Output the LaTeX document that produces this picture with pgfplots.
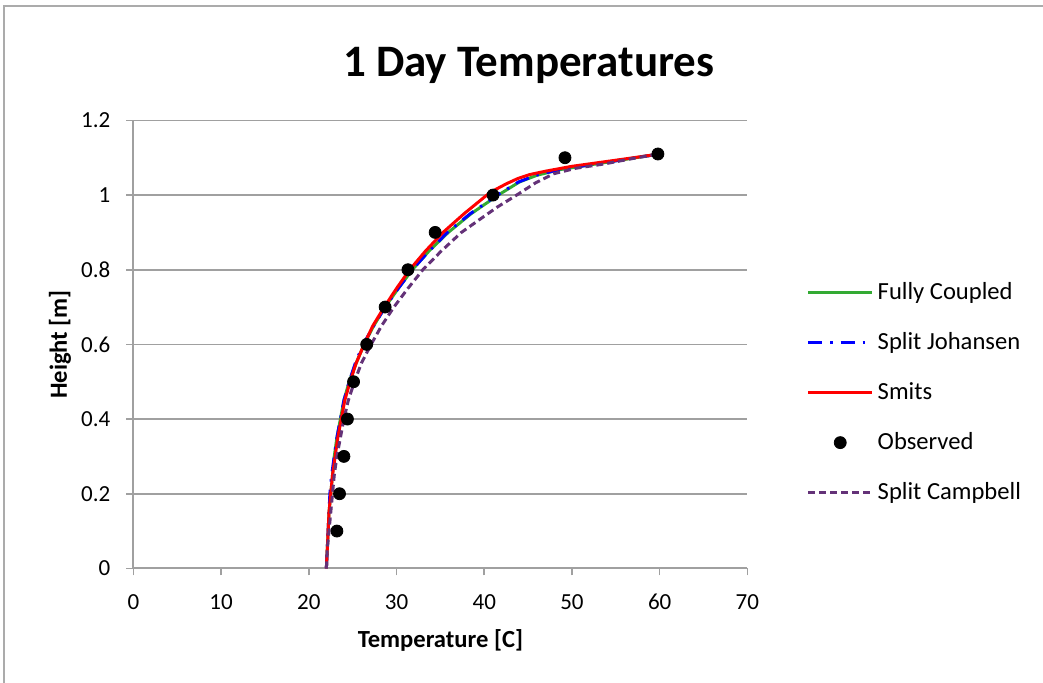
\documentclass[border=0pt]{standalone}
\usepackage{fontspec}
\setmainfont{Carlito}
\usepackage{pgfplots}
\pgfplotsset{compat=1.18}

\definecolor{cgreen}{RGB}{51,170,51}
\definecolor{cblue}{RGB}{0,0,255}
\definecolor{cred}{RGB}{255,0,0}
\definecolor{cpurple}{RGB}{100,50,120}
\definecolor{cgrid}{RGB}{160,160,160}

\pgfplotsset{
  linelegend/.style={legend image code/.code={\draw[##1] (0pt,0pt) -- (32pt,0pt);}},
  dotlegend/.style={legend image code/.code={\draw[##1] plot coordinates {(16pt,0pt)};}},
}

\begin{document}
\begin{tikzpicture}
\useasboundingbox (-66.7pt,-57.3pt) rectangle (454.8pt,284.2pt);
\draw[color=black!33, line width=1pt] (-64.7pt,-57.3pt) -- (-64.7pt,281.2pt) -- (454.8pt,281.2pt);
\begin{axis}[
    at={(0,0)}, anchor=south west,
    width=307pt, height=224pt, scale only axis,
    xmin=0, xmax=70, ymin=0, ymax=1.2,
    xtick={0,10,...,70},
    ytick={0,0.2,...,1.2},
    axis lines*=left,
    axis line style={cgrid, line width=0.9pt},
    ymajorgrids,
    grid style={cgrid, line width=0.8pt},
    tick align=outside,
    major tick length=3.5pt,
    tick style={cgrid, line width=0.8pt},
    xtick pos=bottom, ytick pos=left,
    ticklabel style={font=\fontsize{11.5}{13}\selectfont},
    xticklabel style={yshift=-6pt},
    yticklabel style={xshift=-4.5pt},
    /pgf/number format/assume math mode=true,
    xlabel={Temperature [C]},
    ylabel={Height [m]},
    label style={font=\fontsize{12.3}{14}\selectfont\bfseries},
    xlabel style={at={(axis description cs:0.5,-0.16)}, anchor=center},
    ylabel style={at={(axis description cs:-0.1195,0.5)}, anchor=center},
    title={1 Day Temperatures},
    title style={font=\fontsize{22.5}{26}\selectfont\bfseries,
                 at={(axis description cs:0.644,1)}, anchor=base, yshift=16pt},
    legend style={draw=none, fill=none, inner sep=0pt,
                  at={(axis description cs:1.096,0.648)}, anchor=north west,
                  font=\fontsize{12.3}{14}\selectfont,
                  row sep=11pt, legend cell align=left},
]
\addplot[cgreen, line width=1.5pt, linelegend] coordinates {
 (22.0,0) (22.1,0.05) (22.2,0.1) (22.3,0.15) (22.5,0.2) (22.7,0.25) (22.9,0.3)
 (23.2,0.35) (23.6,0.4) (24.0,0.45) (24.6,0.5) (25.4,0.55) (26.3,0.6)
 (27.4,0.65) (28.7,0.7) (30.2,0.75) (31.8,0.8) (33.7,0.85) (35.9,0.9)
 (38.5,0.95) (41.6,1.0) (44.0,1.035) (46.0,1.053) (48.6,1.068) (54.0,1.088) (60.0,1.11)
};
\addlegendentry{Fully Coupled}
\addplot[cblue, line width=1.5pt, dash pattern=on 7pt off 4pt on 1.2pt off 4pt, linelegend] coordinates {
 (22.0,0) (22.1,0.05) (22.2,0.1) (22.3,0.15) (22.4,0.2) (22.6,0.25) (22.9,0.3)
 (23.2,0.35) (23.6,0.4) (24.0,0.45) (24.6,0.5) (25.3,0.55) (26.2,0.6)
 (27.4,0.65) (28.7,0.7) (30.2,0.75) (31.8,0.8) (33.7,0.85) (35.8,0.9)
 (38.4,0.95) (41.5,1.0) (43.9,1.035) (45.9,1.053) (48.5,1.068) (54.0,1.088) (60.0,1.11)
};
\addlegendentry{Split Johansen}
\addplot[cred, line width=1.5pt, linelegend] coordinates {
 (22.0,0) (22.1,0.05) (22.2,0.1) (22.3,0.15) (22.5,0.2) (22.7,0.25) (23.0,0.3)
 (23.3,0.35) (23.7,0.4) (24.1,0.45) (24.7,0.5) (25.4,0.55) (26.3,0.6)
 (27.3,0.65) (28.6,0.7) (30.0,0.75) (31.5,0.8) (33.3,0.85) (35.3,0.9)
 (37.7,0.95) (40.3,1.0) (41.3,1.015) (42.5,1.03) (43.8,1.044) (45.2,1.055)
 (47.0,1.064) (50.0,1.077) (55.5,1.095) (60.0,1.11)
};
\addlegendentry{Smits}
\addplot[only marks, mark=*, mark size=3pt, black, dotlegend] coordinates {
 (23.2,0.1) (23.5,0.2) (24.0,0.3) (24.4,0.4) (25.1,0.5) (26.6,0.6)
 (28.7,0.7) (31.3,0.8) (34.4,0.9) (41.0,1.0) (49.2,1.1) (59.8,1.11)
};
\addlegendentry{Observed}
\addplot[cpurple, line width=1.5pt, dash pattern=on 3.5pt off 2pt, linelegend] coordinates {
 (22.0,0) (22.1,0.05) (22.3,0.1) (22.5,0.15) (22.7,0.2) (22.9,0.25) (23.2,0.3)
 (23.6,0.35) (24.0,0.4) (24.5,0.45) (25.2,0.5) (26.0,0.55) (27.1,0.6)
 (28.3,0.65) (29.7,0.7) (31.3,0.75) (33.0,0.8) (35.1,0.85) (37.4,0.9)
 (39.5,0.935) (41.5,0.968) (43.7,1.0) (45.8,1.032) (47.9,1.057) (50.5,1.072) (53.6,1.083) (57.4,1.1) (60.0,1.11)
};
\addlegendentry{Split Campbell}
\end{axis}
\end{tikzpicture}
\end{document}
